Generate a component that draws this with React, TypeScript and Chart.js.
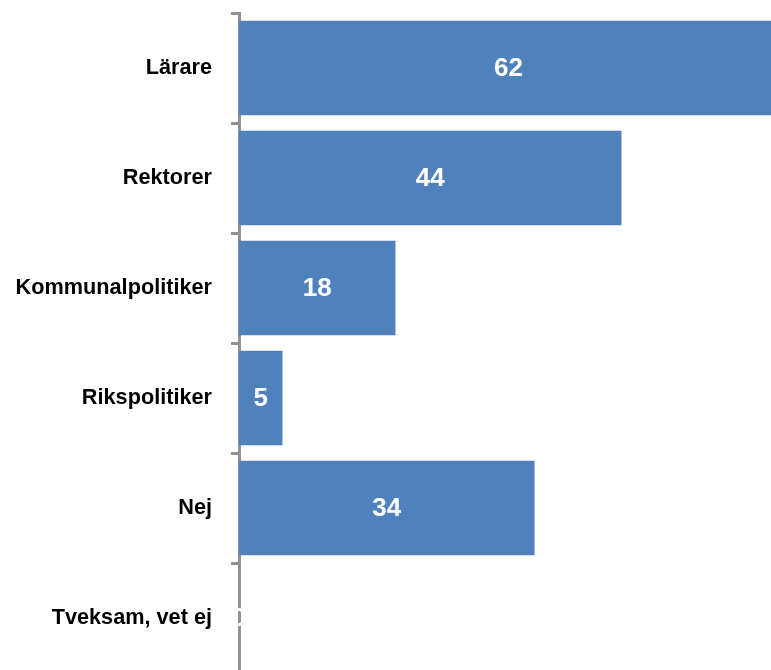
import React, { useEffect, useRef } from "react";
import { Chart, registerables } from "chart.js";

Chart.register(...registerables);

const categories = ["Lärare", "Rektorer", "Kommunalpolitiker", "Rikspolitiker", "Nej", "Tveksam, vet ej"];
const values = [62, 44, 18, 5, 34, 0];

const barColor = "#4F81BD";
const axisColor = "#8E9196";

const labelPlugin = {
  id: "barLabels",
  afterDatasetsDraw(chart: any) {
    const ctx = chart.ctx;
    const meta = chart.getDatasetMeta(0);
    ctx.save();
    ctx.fillStyle = "#ffffff";
    ctx.font = "bold 26px 'Liberation Sans', Arial, sans-serif";
    ctx.textAlign = "center";
    ctx.textBaseline = "middle";
    meta.data.forEach((bar: any, i: number) => {
      const x = (bar.x + bar.base) / 2;
      ctx.fillText(String(values[i]), x, bar.y + 1);
    });
    ctx.restore();
  },
};

export default function App() {
  const ref = useRef<HTMLCanvasElement>(null);
  useEffect(() => {
    if (!ref.current) return;
    const chart = new Chart(ref.current, {
      type: "bar",
      data: {
        labels: categories,
        datasets: [
          {
            data: values,
            backgroundColor: barColor,
            borderWidth: 0,
            categoryPercentage: 1,
            barPercentage: 0.86,
          },
        ],
      },
      options: {
        indexAxis: "y",
        animation: false,
        responsive: false,
        maintainAspectRatio: false,
        layout: { padding: { top: 13, bottom: 0, left: 0, right: 0 } },
        plugins: { legend: { display: false }, tooltip: { enabled: false } },
        scales: {
          x: { display: false, min: 0, max: 61.2 },
          y: {
            afterFit(scale: any) {
              scale.width = 239;
              scale.paddingTop = 0;
              scale.paddingBottom = 0;
            },
            grid: {
              offset: true,
              drawOnChartArea: false,
              drawTicks: true,
              tickLength: 8,
              color: axisColor,
              lineWidth: 3,
            },
            border: { display: true, color: axisColor, width: 3 },
            ticks: {
              color: "#000000",
              padding: 19,
              font: { family: "'Liberation Sans', Arial, sans-serif", size: 21.7, weight: "bold" },
            },
          },
        },
      },
      plugins: [labelPlugin],
    });
    return () => chart.destroy();
  }, []);
  return (
    <div style={{ position: "fixed", left: 0, top: 0, width: 771, height: 670, overflow: "hidden", background: "#fff" }}>
      <canvas ref={ref} width={771} height={673} style={{ width: 771, height: 673, display: "block" }} />
    </div>
  );
}
